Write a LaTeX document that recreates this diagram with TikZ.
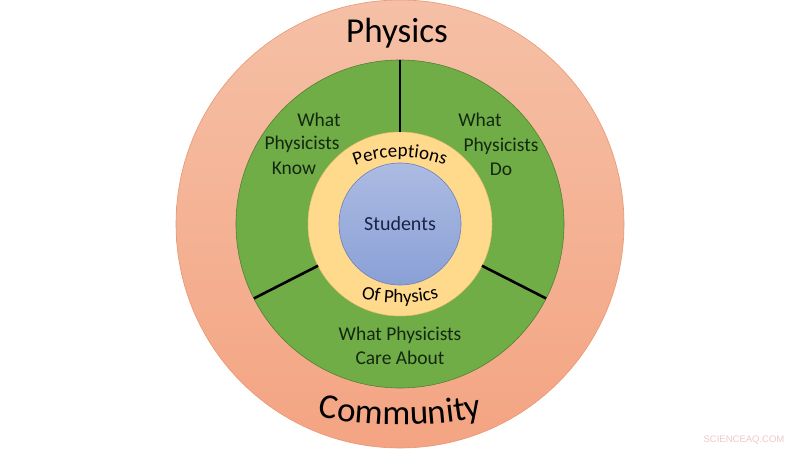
\documentclass[tikz,border=0pt]{standalone}
\usepackage{fontspec}
\setmainfont{Carlito}
\newfontfamily\wmfont{Liberation Sans}
\usetikzlibrary{decorations.text}
\definecolor{ringtop}{RGB}{245,192,166}
\definecolor{ringbot}{RGB}{244,164,130}
\definecolor{ringline}{RGB}{232,150,115}
\definecolor{greenfill}{RGB}{112,173,71}
\definecolor{greenline}{RGB}{80,130,50}
\definecolor{yellowfill}{RGB}{255,217,140}
\definecolor{yellowline}{RGB}{235,190,110}
\definecolor{bluetop}{RGB}{172,187,226}
\definecolor{bluebot}{RGB}{138,160,214}
\definecolor{blueline}{RGB}{105,130,190}
\definecolor{inkgreen}{RGB}{20,40,15}
\definecolor{inkblue}{RGB}{25,35,70}
\definecolor{wmpink}{RGB}{240,200,200}
\tikzset{
  ring/.style={circle, inner sep=0pt, outer sep=0pt},
  divider/.style={line width=2.6pt, black},
  inner label/.style={font=\fontsize{19.5}{23}\selectfont, text=inkgreen, anchor=base, inner sep=0pt},
  big label/.style={font=\fontsize{35}{40}\selectfont, text=black, anchor=base, inner sep=0pt}
}
\begin{document}
\begin{tikzpicture}[x=1pt,y=1pt]
\useasboundingbox (0,0) rectangle (800,450);
\node[ring, minimum size=448pt, top color=ringtop, bottom color=ringbot, draw=ringline, line width=0.6pt] (outer) at (400,226) {};
\node[ring, minimum size=328pt, fill=greenfill, draw=greenline, line width=0.6pt] (green) at (400,226) {};
\node[ring, minimum size=184pt, fill=yellowfill, draw=yellowline, line width=0.5pt] (yellow) at (400,226) {};
\node[ring, minimum size=122pt, top color=bluetop, bottom color=bluebot, draw=blueline, line width=0.6pt] (blue) at (400,226) {};
% dividers
\draw[divider] (green.90) -- (yellow.90);
\draw[divider] (green.207) -- (yellow.207);
\draw[divider] (green.-27) -- (yellow.-27);
% labels
\node[big label] (physics) at (397,407) {Physics};
\node[inner label] (wk1) at (319,323) {What};
\node[inner label] (wk2) at (302,300) {Physicists};
\node[inner label] (wk3) at (294,275) {Know};
\node[inner label] (wd1) at (480,323) {What};
\node[inner label] (wd2) at (501,298) {Physicists};
\node[inner label] (wd3) at (501,274) {Do};
\node[inner label] (wc1) at (400,110) {What Physicists};
\node[inner label] (wc2) at (400,86) {Care About};
\node[inner label, text=inkblue, font=\fontsize{20}{24}\selectfont] (students) at (400,219) {Students};
% curved texts
\path[decorate, decoration={text along path, text align=center,
  text={|\fontsize{19}{19}\selectfont\color{black}|Perceptions}}]
  (400,169) ++(125:124) arc[start angle=125, end angle=55, radius=124];
\path[decorate, decoration={text along path, text align=center,
  text={|\fontsize{19}{19}\selectfont\color{black}|Of Physics}}]
  (400,307) ++(245:160) arc[start angle=245, end angle=295, radius=160];
\path[decorate, decoration={text along path, text align=center,
  text={|\fontsize{35}{35}\selectfont\color{black}|Community}}]
  (400,445) ++(253:420) arc[start angle=253, end angle=287, radius=420];
\node[font=\wmfont\fontsize{9.5}{11}\selectfont, text=wmpink, inner sep=0pt] (wm) at (744,10) {SCIENCEAQ.COM};
\end{tikzpicture}
\end{document}
